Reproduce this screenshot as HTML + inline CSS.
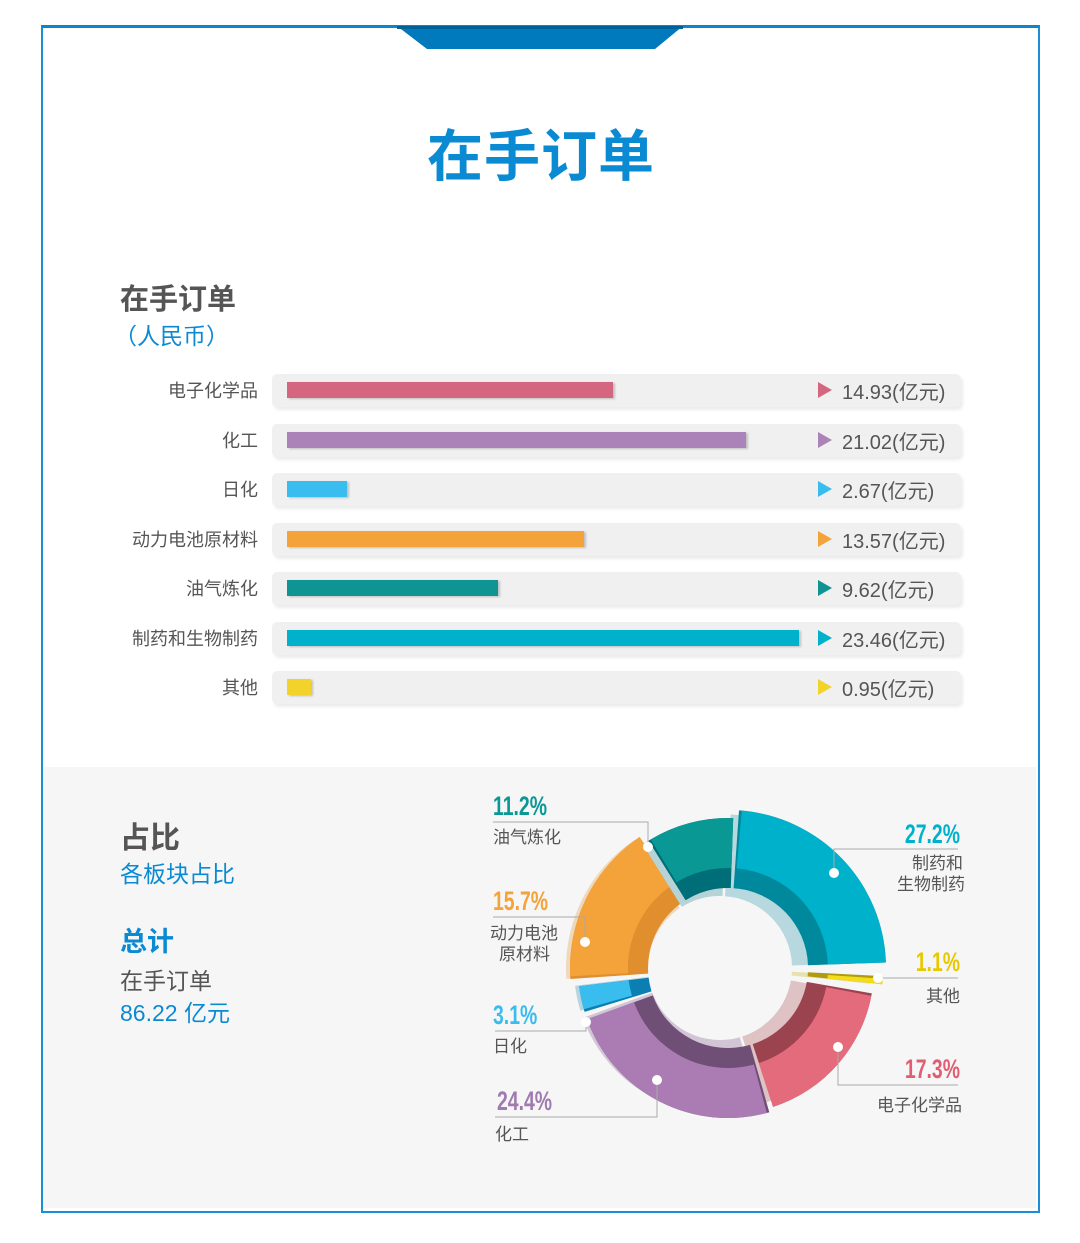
<!DOCTYPE html>
<html><head><meta charset="utf-8"><style>
body{margin:0;width:1080px;height:1243px;background:#fff;position:relative;overflow:hidden;font-family:"Liberation Sans","Noto Sans CJK SC",sans-serif;}
.a{position:absolute;white-space:nowrap;}
.frame{position:absolute;left:41px;top:25px;width:995px;height:1183px;border:2px solid #1a8fd6;border-top:3px solid #0a86cf;}
.gray{position:absolute;left:43px;top:767px;width:993px;height:441px;background:#f6f6f6;}
.track{position:absolute;left:272px;width:689px;height:33px;background:#f0f0f0;border-radius:5px;box-shadow:2px 3px 3px rgba(0,0,0,0.08);}
.bar{position:absolute;left:287px;height:16px;box-shadow:2px 1px 2px rgba(0,0,0,0.2);}
.lab{position:absolute;right:822px;font-size:18px;color:#555;}
.val{position:absolute;left:842px;font-size:20px;color:#555;}
.tri{position:absolute;left:818px;width:0;height:0;border-top:8px solid transparent;border-bottom:8px solid transparent;border-left:14px solid;}
</style></head><body>
<div class="gray"></div>
<div class="frame"></div>
<svg class="a" style="left:0;top:0" width="1080" height="60"><polygon points="397,26 683,26 655,49 427,49" fill="#0079bd"/><rect x="397" y="26" width="286" height="3" fill="#00609a"/></svg>
<div class="a" style="left:427px;top:112px;font-size:56px;font-weight:bold;color:#0a8ad3;letter-spacing:1px;">在手订单</div>
<div class="a" style="left:120px;top:276px;font-size:29px;font-weight:bold;color:#555;">在手订单</div>
<div class="a" style="left:114px;top:317px;font-size:23px;color:#0a8ad3;">（人民币）</div>

<div id="bars"></div>

<div class="a" style="left:120px;top:813px;font-size:30px;font-weight:bold;color:#555;">占比</div>
<div class="a" style="left:120px;top:855px;font-size:23px;color:#0a8ad3;">各板块占比</div>
<div class="a" style="left:120px;top:920px;font-size:27px;font-weight:bold;color:#0a8ad3;">总计</div>
<div class="a" style="left:120px;top:962px;font-size:23px;color:#555;">在手订单</div>
<div class="a" style="left:120px;top:994px;font-size:23px;color:#0a8ad3;">86.22 亿元</div>

<svg id="d" class="a" style="left:0;top:0" width="1080" height="1243"></svg>

<script>
var rows=[["电子化学品",613,"#d4667f","14.93"],["化工",746,"#ab83b8","21.02"],["日化",347,"#38bdee","2.67"],["动力电池原材料",584,"#f4a23a","13.57"],["油气炼化",498,"#0e9593","9.62"],["制药和生物制药",799,"#00b1cc","23.46"],["其他",311,"#f2d32b","0.95"]];
var h="";
rows.forEach(function(r,i){var c=390+i*49.5;
h+='<div class="track" style="top:'+(c-16)+'px"></div>';
h+='<div class="bar" style="top:'+(c-8)+'px;width:'+(r[1]-287)+'px;background:'+r[2]+'"></div>';
h+='<div class="lab a" style="top:'+(c-13)+'px">'+r[0]+'</div>';
h+='<div class="tri" style="top:'+(c-8)+'px;border-left-color:'+r[2]+'"></div>';
h+='<div class="val a" style="top:'+(c-14)+'px">'+r[3]+'(亿元)</div>';});
document.getElementById("bars").innerHTML=h;
function arc(cx,cy,r1,r2,a1,a2){var R=Math.PI/180,p=function(r,a){return (cx+r*Math.cos(a*R)).toFixed(1)+","+(cy+r*Math.sin(a*R)).toFixed(1)};var l=(a2-a1)>180?1:0;
return "M"+p(r2,a1)+"A"+r2+","+r2+" 0 "+l+" 1 "+p(r2,a2)+"L"+p(r1,a2)+"A"+r1+","+r1+" 0 "+l+" 0 "+p(r1,a1)+"Z";}
var cx=728,cy=968,s="";
var seg=[[-86,-2,"#00b1cc","#00899c","#b6d8de",158],[3,6,"#f3dc18","#b09a10","#e8e0b0",155],[10,72,"#e46b7c","#9b4450","#dfc2c4",146],[74,160,"#ab7cb3","#704f77","#d2c5d6",150],[163,173,"#38bdee","#0b7fb1","#b8d4e0",150],[176,236,"#f4a23a","#e08e2e","#efd9bd",158],[238,272,"#0a9895","#006e78","#b6d3d8",150]];
seg.forEach(function(g){s+='<path d="'+arc(cx-8,cy,72,g[5]-4,g[0],g[1])+'" fill="'+g[4]+'"/>';s+='<path d="'+arc(cx,cy,80,g[5],g[0],g[1])+'" fill="'+g[3]+'"/>';s+='<path d="'+arc(cx,cy,100,g[5],g[0]+1,g[1])+'" fill="'+g[2]+'"/>';});
var lines=[[648,847,648,822,493,822],[834,873,834,849,958,849],[878,978,878,978,958,978],[838,1047,838,1085,958,1085],[657,1080,657,1117,495,1117],[586,1022,586,1031,495,1031],[585,942,585,917,493,917]];
lines.forEach(function(l){s+='<polyline points="'+l[0]+','+l[1]+' '+l[2]+','+l[3]+' '+l[4]+','+l[5]+'" fill="none" stroke="#aaa" stroke-width="1"/><circle cx="'+l[0]+'" cy="'+l[1]+'" r="5" fill="#fff"/>';});
var t=[[493,815,"11.2%","#0a9895","start"],[960,843,"27.2%","#00b1cc","end"],[960,971,"1.1%","#e8c800","end"],[960,1078,"17.3%","#e05e72","end"],[497,1110,"24.4%","#a07ab0","start"],[493,1024,"3.1%","#38bdee","start"],[493,910,"15.7%","#f4a23a","start"]];
t.forEach(function(x){s+='<text x="'+x[0]+'" y="'+x[1]+'" font-family="Liberation Sans Narrow,Liberation Sans,sans-serif" font-weight="bold" font-size="27" fill="'+x[3]+'" text-anchor="'+x[4]+'" transform="translate('+x[0]+' '+x[1]+') scale(0.72 1) translate('+(-x[0])+' '+(-x[1])+')">'+x[2]+'</text>';});
var lb=[[493,843,"油气炼化","start"],[963,869,"制药和","end"],[965,890,"生物制药","end"],[960,1002,"其他","end"],[962,1111,"电子化学品","end"],[495,1140,"化工","start"],[493,1052,"日化","start"],[490,939,"动力电池","start"],[499,960,"原材料","start"]];
lb.forEach(function(x){s+='<text x="'+x[0]+'" y="'+x[1]+'" font-family="Liberation Sans,Noto Sans CJK SC,sans-serif" font-size="17" fill="#555" text-anchor="'+x[3]+'">'+x[2]+'</text>';});
document.getElementById("d").innerHTML=s;
</script>
</body></html>
